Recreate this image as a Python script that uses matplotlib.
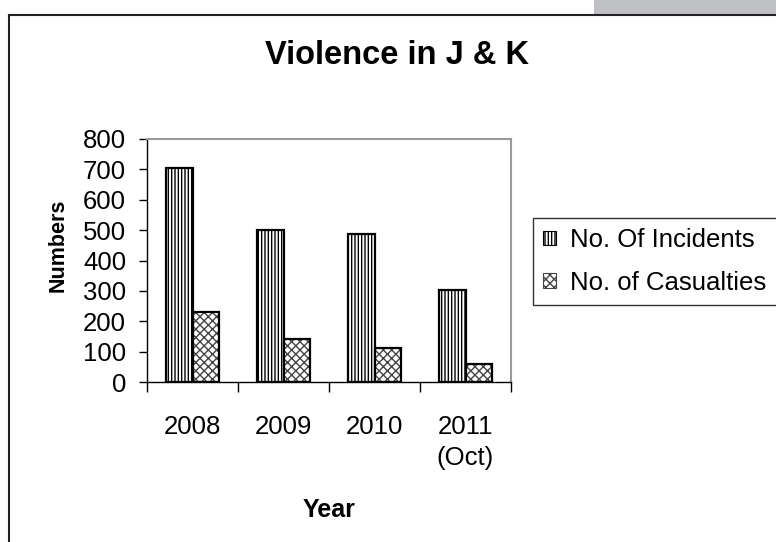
import matplotlib
matplotlib.use("Agg")
import matplotlib.pyplot as plt
from matplotlib.patches import Patch, Rectangle
from matplotlib.lines import Line2D
import numpy as np

plt.rcParams['font.family'] = ['Liberation Sans', 'DejaVu Sans']
plt.rcParams['hatch.linewidth'] = 1.0

# ---------------- datos ----------------
years = ["2008", "2009", "2010", "2011\n(Oct)"]
incidents = [705, 500, 488, 303]
casualties = [230, 140, 112, 58]
series_names = ["No. Of Incidents", "No. of Casualties"]

W, H = 776, 542
fig = plt.figure(figsize=(W / 100, H / 100), dpi=100)
ax = fig.add_axes([147 / W, 1 - 382 / H, (511 - 147) / W, (382 - 139) / H])

x = np.arange(len(years))
bw = 0.29
# capa de trama + capa de borde
ax.bar(x - bw / 2, incidents, bw, color="white", edgecolor="black", hatch="|||||", linewidth=0)
ax.bar(x - bw / 2, incidents, bw, fill=False, edgecolor="black", linewidth=1.6)
ax.bar(x + bw / 2, casualties, bw, color="white", edgecolor="#444444", hatch="xxxx", linewidth=0)
ax.bar(x + bw / 2, casualties, bw, fill=False, edgecolor="black", linewidth=1.6)

ax.set_xlim(-0.5, len(years) - 0.5)
ax.set_ylim(0, 800)
ax.set_yticks(np.arange(0, 801, 100))
ax.set_xticks(np.arange(len(years) + 1) - 0.5)
ax.set_xticklabels([])
ax.set_xticks(x, minor=True)
ax.set_xticklabels(years, minor=True, fontsize=18.5, linespacing=1.35)
ax.tick_params(axis="x", which="minor", length=0, pad=24)
ax.tick_params(axis="x", which="major", direction="out", length=7, width=1)
ax.tick_params(axis="y", direction="out", length=6, width=1, labelsize=18.5, pad=9)

for s in ["top", "right"]:
    ax.spines[s].set_color("#9a9a9a")
    ax.spines[s].set_linewidth(1.5)
for s in ["left", "bottom"]:
    ax.spines[s].set_color("black")
    ax.spines[s].set_linewidth(1.0)

ax.set_ylabel("Numbers", fontsize=15.5, fontweight="bold", va="center")
ax.yaxis.set_label_coords((58 - 147) / 364, (382 - 245) / 243)
ax.set_xlabel("Year", fontsize=18, fontweight="bold", va="center")
ax.xaxis.set_label_coords(0.5, (382 - 510) / 243)
fig.text(397 / W, 1 - 55 / H, "Violence in J & K", fontsize=23.5, fontweight="bold",
         ha="center", va="center")

handles = [Patch(facecolor="white", edgecolor="black", hatch="|||||", linewidth=0.8),
           Patch(facecolor="white", edgecolor="#444444", hatch="xxxx", linewidth=0.8)]
leg = fig.legend(handles, series_names, loc="upper left", bbox_to_anchor=(533 / W, 1 - 218 / H),
                 fontsize=18.5, frameon=True, fancybox=False, edgecolor="black",
                 handlelength=0.5, handleheight=0.5, handletextpad=0.55,
                 borderpad=0.4, labelspacing=0.72, borderaxespad=0)
leg.get_frame().set_linewidth(1.0)

# marco exterior y rectangulo gris
fig.add_artist(Rectangle((594 / W, 1 - 14 / H), 1 - 594 / W, 14 / H, transform=fig.transFigure,
                         facecolor="#bfc0c4", edgecolor="none"))
fig.add_artist(Line2D([9 / W, 1], [1 - 15 / H, 1 - 15 / H], transform=fig.transFigure,
                      color="#222222", linewidth=1.5))
fig.add_artist(Line2D([9 / W, 9 / W], [0, 1 - 15 / H], transform=fig.transFigure,
                      color="#222222", linewidth=1.5))

fig.savefig("out.png", dpi=100)
